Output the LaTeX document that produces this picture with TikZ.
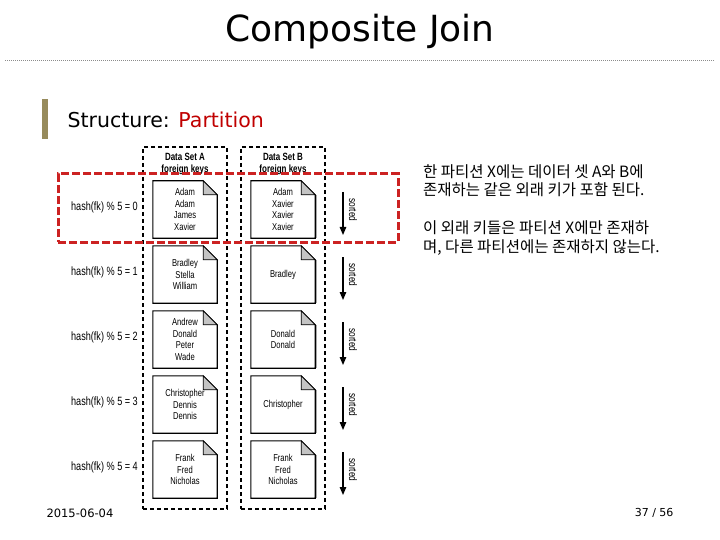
\documentclass[tikz,border=0pt]{standalone}
\usepackage{fontspec}
\setmainfont{DejaVu Sans}
\newfontfamily\figfont{Liberation Sans}[FakeStretch=0.76]
\newfontfamily\korfont{Noto Sans CJK KR}
\usetikzlibrary{positioning,arrows.meta}
\definecolor{slideolive}{HTML}{978B5C}
\definecolor{slidered}{HTML}{C00000}
\definecolor{partred}{HTML}{CC2222}
\definecolor{foldgray}{HTML}{C4C4C4}
\definecolor{rulegray}{HTML}{8C8C8C}

\begin{document}
\begin{tikzpicture}[x=1pt, y=-1pt,
    page/.style={minimum width=64pt, minimum height=57pt, inner sep=0pt, align=center, font=\figfont\fontsize{10}{11.5}\selectfont},
    pageline/.style={line width=1.1pt, line join=miter},
    fold/.style={fill=foldgray, draw=black, line width=0.8pt, line join=miter},
    shade/.style={draw=black!35, line width=1.6pt},
    dataset/.style={draw, dash pattern=on 4pt off 3pt, line width=1.1pt, minimum width=84pt, minimum height=362pt},
    header/.style={align=center, font=\figfont\bfseries\fontsize{10.5}{12}\selectfont},
    hashlabel/.style={anchor=east, inner sep=0pt, font=\figfont\fontsize{12}{13}\selectfont},
    sortlabel/.style={rotate=-90, inner sep=0pt, font=\figfont\fontsize{11}{12}\selectfont},
    arrow/.style={-{Triangle[width=6.5pt,length=8pt]}, line width=1.3pt},
    partbox/.style={draw=partred, dash pattern=on 8pt off 3pt, line width=3pt, minimum width=340pt, minimum height=68pt},
    kortext/.style={align=left, inner sep=0pt, font=\korfont\fontsize{15.5}{18.5}\selectfont},
]
\useasboundingbox (0,0) rectangle (720,540);

% slide title and rule
\node[font=\fontsize{36}{40}\selectfont] (title) at (360,32) {Composite Join};
\draw[rulegray, line width=1pt, dash pattern=on 1pt off 1pt] (5,61) -- (714,61);
\fill[slideolive] (42,99) rectangle (48,139);
\node[anchor=west, font=\fontsize{20.5}{24}\selectfont] (struct) at (64,120) {Structure: \textcolor{slidered}{Partition}};

% the two data sets
\node[dataset] (setA) at (185,328) {};
\node[dataset] (setB) at (283,328) {};
\node[header] (headA) at (185,164) {Data Set A\\foreign keys};
\node[header] (headB) at (283,164) {Data Set B\\foreign keys};

\foreach \r/\la/\lb in {0/{Adam\\Adam\\James\\Xavier}/{Adam\\Xavier\\Xavier\\Xavier},
                       1/{Bradley\\Stella\\William}/{Bradley},
                       2/{Andrew\\Donald\\Peter\\Wade}/{Donald\\Donald},
                       3/{Christopher\\Dennis\\Dennis}/{Christopher},
                       4/{Frank\\Fred\\Nicholas}/{Frank\\Fred\\Nicholas}} {
    \node[hashlabel] (hash\r) at (138,{207+65*\r}) {hash(fk) \% 5 = \r};
    \node[page] (a\r) at (185,{209.5+65*\r}) {\la};
    \node[page] (b\r) at (283,{209.5+65*\r}) {\lb};
    \draw[shade] ([xshift=1.4pt,yshift=-14pt]b\r.north east) -- ([xshift=1.4pt]b\r.south east);
    \foreach \p in {a\r,b\r} {
        \draw[pageline] (\p.south west) -- (\p.north west) -- ([xshift=-14pt]\p.north east)
            -- ([yshift=-14pt]\p.north east) -- (\p.south east) -- cycle;
        \filldraw[fold] ([xshift=-14pt]\p.north east) -- ([xshift=-14pt,yshift=-14pt]\p.north east)
            -- ([yshift=-14pt]\p.north east) -- cycle;
    }
    \coordinate (top\r) at (343,{192+65*\r});
    \coordinate (bot\r) at (343,{235+65*\r});
    \draw[arrow] (top\r) -- (bot\r);
    \node[sortlabel] (sorted\r) at (353,{210+65*\r}) {sorted};
}

% partition X
\node[partbox] (partX) at (228,208) {};

% notes
\node[kortext, anchor=north west] (note1) at (423,164) {한 파티션 X에는 데이터 셋 A와 B에\\존재하는 같은 외래 키가 포함 된다.};
\node[kortext, below=24pt of note1.south west, anchor=north west] (note2) {이 외래 키들은 파티션 X에만 존재하\\며, 다른 파티션에는 존재하지 않는다.};

% footer
\node[anchor=west, font=\fontsize{11.5}{13}\selectfont] (date) at (43,513) {2015-06-04};
\node[anchor=east, font=\fontsize{11}{13}\selectfont] (pageno) at (677,513) {37 / 56};
\end{tikzpicture}
\end{document}
